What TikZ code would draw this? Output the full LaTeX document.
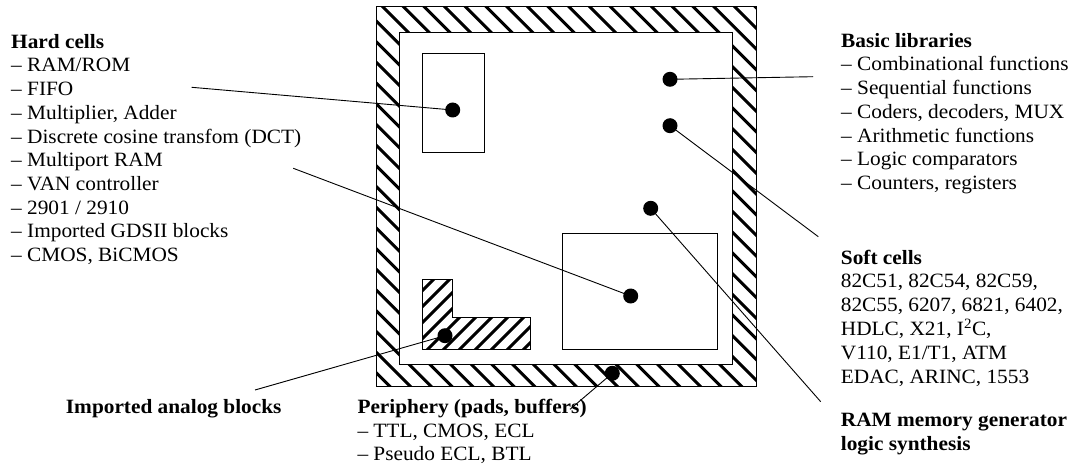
\documentclass[tikz,border=0pt]{standalone}
\usepackage{fontspec}
\setmainfont[FakeStretch=1.05]{Liberation Serif}
\begin{document}
\begin{tikzpicture}[x=1pt,y=-1pt,
  dot/.style={circle, fill=black, inner sep=0pt, minimum size=15pt},
  conn/.style={line width=0.9pt},
  hatchline/.style={line width=3pt},
  outline/.style={line width=1pt},
  lbl/.style={anchor=base west, inner sep=0pt, font=\fontsize{20.3}{23.7}\selectfont},
  lble/.style={anchor=base east, inner sep=0pt, font=\fontsize{20.3}{23.7}\selectfont\bfseries}]
\useasboundingbox (0,0) rectangle (1071,473);

% outer hatched periphery ring
\fill[white] (376,7) rectangle (756,386);
\begin{scope}
  \clip (376,7) rectangle (756,386);
  \foreach \k in {-20,...,20}
    \draw[hatchline] ({376+20.7*\k},0) -- ++(420,420);
\end{scope}
\draw[outline] (376,7) rectangle (756,386);
\draw[outline, fill=white] (399,33) rectangle (732,364);

% hard cell block
\draw[outline] (422,54) rectangle (484,153);
% soft cell block
\draw[outline] (562,234) rectangle (717,349);
% L-shaped analog block
\begin{scope}
  \clip (422,279) -- (452.5,279) -- (452.5,317.5) -- (530.5,317.5) -- (530.5,349) -- (422,349) -- cycle;
  \foreach \k in {-6,...,8}
    \draw[hatchline] ({777+16*\k-240},240) -- ({777+16*\k-380},380);
\end{scope}
\draw[outline] (422,279) -- (452.5,279) -- (452.5,317.5) -- (530.5,317.5) -- (530.5,349) -- (422,349) -- cycle;

% dots
\node[dot] (dHard) at (452.7,110) {};
\node[dot] (dBasic) at (670,79.3) {};
\node[dot] (dSoft) at (670,125.7) {};
\node[dot] (dRam) at (650.7,208.3) {};
\node[dot] (dBig) at (630.7,296) {};
\node[dot] (dAnalog) at (445,335.7) {};
\node[dot] (dPeri) at (612.3,373.3) {};

% free ends of connectors
\coordinate (eHard) at (191.7,87.3);
\coordinate (eBig) at (293.3,168.3);
\coordinate (eBasic) at (813,76.7);
\coordinate (eSoft) at (818.3,236.7);
\coordinate (eRam) at (820.7,401.7);
\coordinate (eAnalog) at (255,390);
\coordinate (ePeri) at (570,409.3);

\draw[conn] (dHard.center) -- (eHard);
\draw[conn] (dBig.center) -- (eBig);
\draw[conn] (dBasic.center) -- (eBasic);
\draw[conn] (dSoft.center) -- (eSoft);
\draw[conn] (dRam.center) -- (eRam);
\draw[conn] (dAnalog.center) -- (eAnalog);
\draw[conn] (dPeri.center) -- (ePeri);

% labels
\node[lbl] (tHard) at (11,48.3) {\begin{tabular}[t]{@{}l@{}}\textbf{Hard cells}\\
– RAM/ROM\\
– FIFO\\
– Multiplier, Adder\\
– Discrete cosine transfom (DCT)\\
– Multiport RAM\\
– VAN controller\\
– 2901 / 2910\\
– Imported GDSII blocks\\
– CMOS, BiCMOS\end{tabular}};

\node[lbl] (tBasic) at (841,47.3) {\begin{tabular}[t]{@{}l@{}}\textbf{Basic libraries}\\
– Combinational functions\\
– Sequential functions\\
– Coders, decoders, MUX\\
– Arithmetic functions\\
– Logic comparators\\
– Counters, registers\end{tabular}};

\node[lbl] (tSoft) at (840.7,264.3) {\begin{tabular}[t]{@{}l@{}}\textbf{Soft cells}\\
82C51, 82C54, 82C59,\\
82C55, 6207, 6821, 6402,\\
HDLC, X21, I\textsuperscript{2}C,\\
V110, E1/T1, ATM\\
EDAC, ARINC, 1553\end{tabular}};

\node[lbl] (tRam) at (840.7,426.7) {\begin{tabular}[t]{@{}l@{}}\textbf{RAM memory generator}\\
\textbf{logic synthesis}\end{tabular}};

\node[lbl] (tPeri) at (357.3,413.3) {\begin{tabular}[t]{@{}l@{}}\textbf{Periphery (pads, buffers)}\\
– TTL, CMOS, ECL\\
– Pseudo ECL, BTL\end{tabular}};

\node[lble] (tAnalog) at (281.7,413.3) {Imported analog blocks};
\end{tikzpicture}
\end{document}
